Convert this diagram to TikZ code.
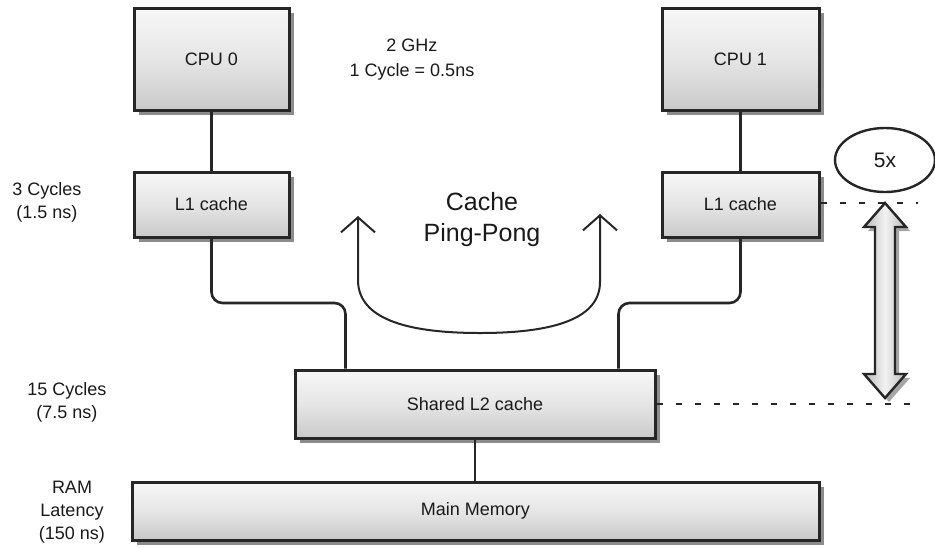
\documentclass[tikz,border=0pt]{standalone}
\usepackage{fontspec}
\setmainfont{Liberation Sans}
\usetikzlibrary{shapes.geometric,shadows,arrows.meta,calc}
\begin{document}
\begin{tikzpicture}[x=1pt,y=-1pt,
  txt/.style={font=\fontsize{18}{23}\selectfont, text=black!90, align=center, inner sep=0pt},
  box/.style={draw=black!85, line width=3pt, rectangle, inner sep=0pt,
    top color=gray!6, bottom color=gray!42, middle color=gray!20,
    drop shadow={shadow xshift=5pt, shadow yshift=-5pt, fill=black, opacity=.45},
    font=\fontsize{18}{22}\selectfont, text=black!90},
  conn/.style={draw=black!85, line width=2.6pt},
  dashline/.style={draw=black!85, line width=2.6pt, dash pattern=on 6pt off 13pt},
  pp/.style={draw=black!85, line width=2pt, {Straight Barb[length=15pt,width=34pt]}-{Straight Barb[length=15pt,width=34pt]}}
]
\useasboundingbox (0,0) rectangle (935,547);

% boxes
\node[box, minimum width=155pt, minimum height=102pt] (cpu0) at (211.5,59) {CPU 0};
\node[box, minimum width=155pt, minimum height=65pt] (l1a) at (211.5,204.5) {L1 cache};
\node[box, minimum width=157pt, minimum height=102pt] (cpu1) at (740.5,59) {CPU 1};
\node[box, minimum width=157pt, minimum height=65pt] (l1b) at (740.5,204.5) {L1 cache};
\node[box, minimum width=360pt, minimum height=68pt] (l2) at (475,404) {Shared L2 cache};
\node[box, minimum width=687pt, minimum height=58pt] (mm) at (475.5,511) {Main Memory};

% labels
\node[txt] (ghz) at (412,60) {2 GHz\\[2pt]1 Cycle = 0.5ns};
\node[txt] (lat1) at (47,202) {3 Cycles\\(1.5 ns)};
\node[txt] (lat2) at (67,402) {15 Cycles\\(7.5 ns)};
\node[txt] (lat3) at (72,512) {RAM\\Latency\\(150 ns)};
\node[txt, font=\fontsize{25}{31}\selectfont] (pong) at (482,220) {Cache\\Ping-Pong};
\node[ellipse, draw=black!85, line width=2.4pt, minimum width=100pt, minimum height=64pt,
      inner sep=0pt, font=\fontsize{21}{25}\selectfont, text=black!90] (five) at (885,160) {5x};

% connectors
\draw[conn] (cpu0) -- (l1a);
\draw[conn] (cpu1) -- (l1b);
\coordinate (l2l) at ($(l2.north west)+(52,0)$);
\coordinate (l2r) at ($(l2.north east)+(-38,0)$);
\draw[conn, rounded corners=11pt] (l1a.south) -- (l1a.south |- 0,303) -- (l2l |- 0,303) -- (l2l);
\draw[conn, rounded corners=11pt] (l1b.south) -- (l1b.south |- 0,303) -- (l2r |- 0,303) -- (l2r);
\draw[conn] (l2) -- (l2 |- mm.north);

% ping-pong arrow
\coordinate (ppl) at (358,216);
\coordinate (ppr) at (600,214);
\draw[pp] (ppl) -- (358,280) .. controls (358,322) and (415,333) .. (480,333)
  .. controls (545,333) and (600,322) .. (600,282) -- (ppr);

% dashed lines
\coordinate (d1) at (918,203);
\coordinate (d2) at (918,404);
\draw[dashline] (l1b.east |- d1) -- (d1);
\draw[dashline] (l2.east |- d2) -- (d2);

% 5x double arrow
\fill[black, opacity=.35] ($(885,203)+(4,4)$) -- ++(21,24) -- ++(-11,0) -- ++(0,147) -- ++(11,0) -- ++(-21,24) -- ++(-21,-24) -- ++(11,0) -- ++(0,-147) -- ++(-11,0) -- cycle;
\path[draw=black!85, line width=2.4pt, left color=gray!55, right color=gray!55, middle color=gray!10]
  (885,203) -- ++(21,24) -- ++(-11,0) -- ++(0,147) -- ++(11,0) -- ++(-21,24) -- ++(-21,-24) -- ++(11,0) -- ++(0,-147) -- ++(-11,0) -- cycle;
\end{tikzpicture}
\end{document}
